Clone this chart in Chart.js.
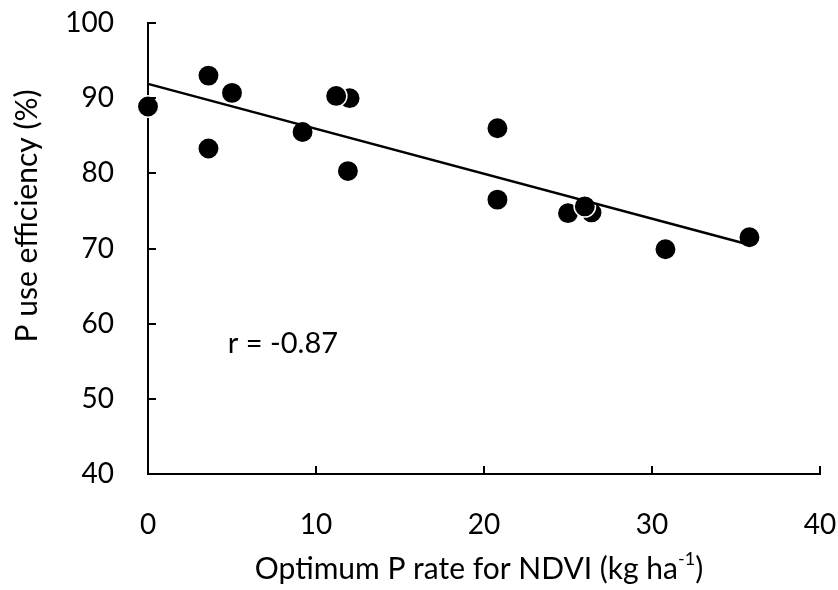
<!DOCTYPE html>
<html>
<head>
<meta charset="utf-8">
<script src="https://cdn.jsdelivr.net/npm/chart.js@4.4.1/dist/chart.umd.min.js"></script>
<style>
  html, body { margin: 0; padding: 0; background: #fff; }
  #wrap { width: 838px; height: 590px; }
</style>
</head>
<body>
<div id="wrap"><canvas id="chart" width="838" height="590"></canvas></div>
<script>
// values
const rateValues = [0, 3.6, 3.6, 5.0, 9.2, 12.0, 11.2, 11.9, 20.8, 20.8, 26.4, 25.0, 26.0, 30.8, 35.8];
const efficiencyValues = [88.9, 93.0, 83.3, 90.7, 85.5, 90.0, 90.3, 80.3, 86.0, 76.5, 74.8, 74.7, 75.6, 69.9, 71.5];
const trendX = [0, 35.8];
const trendY = [91.9, 70.5];
const xTicks = [0, 10, 20, 30, 40];
const yTicks = [40, 50, 60, 70, 80, 90, 100];
const rLabel = 'r = -0.87';

const FONT = 'Lato, "Open Sans", sans-serif';

const points = rateValues.map((x, i) => ({ x: x, y: efficiencyValues[i] }));
const trend = trendX.map((x, i) => ({ x: x, y: trendY[i] }));

// inward tick marks, axis titles and the r note
const extras = {
    id: 'extras',
    afterDraw(chart) {
        const ctx = chart.ctx;
        const xs = chart.scales.x, ys = chart.scales.y;
        const area = chart.chartArea;
        ctx.save();
        ctx.strokeStyle = '#000';
        ctx.lineWidth = 2;
        ctx.beginPath();
        yTicks.forEach(v => {
            const py = Math.round(ys.getPixelForValue(v));
            ctx.moveTo(area.left, py);
            ctx.lineTo(area.left + 8, py);
        });
        xTicks.forEach(v => {
            const px = Math.round(xs.getPixelForValue(v));
            ctx.moveTo(px, area.bottom);
            ctx.lineTo(px, area.bottom - 8);
        });
        ctx.stroke();

        ctx.fillStyle = '#000';
        ctx.textBaseline = 'middle';

        // r note
        ctx.font = '29px ' + FONT;
        ctx.textAlign = 'left';
        ctx.fillText(rLabel, xs.getPixelForValue(4.75), ys.getPixelForValue(57.3));

        // x title with superscript
        const main = 'Optimum P rate for NDVI (kg ha';
        const sup = '-1';
        const end = ')';
        ctx.font = '30px ' + FONT;
        const w1 = ctx.measureText(main).width;
        const w3 = ctx.measureText(end).width;
        ctx.font = '18px ' + FONT;
        const w2 = ctx.measureText(sup).width;
        let x0 = 479 - (w1 + w2 + w3) / 2;
        const ty = 569;
        ctx.font = '30px ' + FONT;
        ctx.fillText(main, x0, ty);
        ctx.font = '18px ' + FONT;
        ctx.fillText(sup, x0 + w1, ty - 10);
        ctx.font = '30px ' + FONT;
        ctx.fillText(end, x0 + w1 + w2, ty);

        // y title
        ctx.translate(27, 216);
        ctx.rotate(-Math.PI / 2);
        ctx.textAlign = 'center';
        ctx.fillText('P use efficiency (%)', 0, 0);
        ctx.restore();
    }
};

new Chart(document.getElementById('chart'), {
    type: 'scatter',
    data: {
        datasets: [{
            data: points,
            backgroundColor: '#000',
            borderColor: '#fff',
            borderWidth: 1.5,
            pointRadius: 10.7,
            pointHoverRadius: 10.7,
            clip: false,
            order: 2
        }, {
            type: 'line',
            data: trend,
            borderColor: '#000',
            borderWidth: 2.5,
            pointRadius: 0,
            fill: false,
            clip: false,
            order: 1
        }]
    },
    options: {
        responsive: false,
        animation: false,
        layout: { padding: { top: 23, right: 18, left: 0, bottom: 0 } },
        plugins: {
            legend: { display: false },
            tooltip: { enabled: false }
        },
        scales: {
            x: {
                type: 'linear',
                min: 0,
                max: 40,
                afterBuildTicks: s => { s.ticks = xTicks.map(v => ({ value: v })); },
                afterFit: s => { s.height = 116; s.paddingLeft = 0; s.paddingRight = 0; },
                grid: { display: false, drawTicks: false },
                border: { display: true, color: '#000', width: 2 },
                ticks: { color: '#000', padding: 34, font: { family: FONT, size: 28 } }
            },
            y: {
                type: 'linear',
                min: 40,
                max: 100,
                afterBuildTicks: s => { s.ticks = yTicks.map(v => ({ value: v })); },
                afterFit: s => { s.width = 148; s.paddingTop = 0; s.paddingBottom = 0; },
                grid: { display: false, drawTicks: false },
                border: { display: true, color: '#000', width: 2 },
                ticks: { color: '#000', padding: 34, font: { family: FONT, size: 28 } }
            }
        }
    },
    plugins: [extras]
});
</script>
</body>
</html>
